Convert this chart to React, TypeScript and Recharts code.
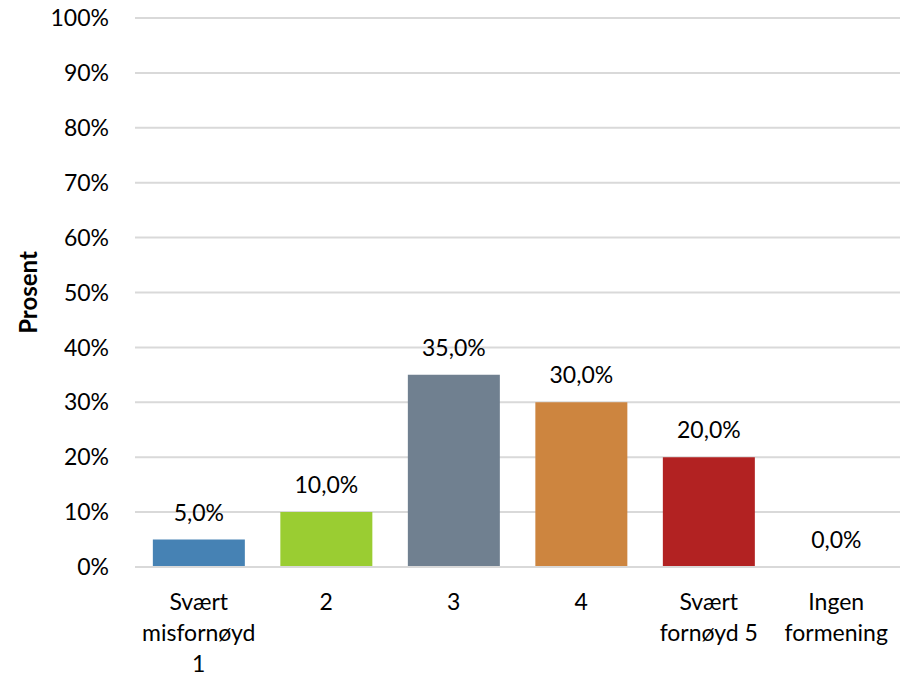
import React from "react";
import { BarChart, Bar, XAxis, YAxis, CartesianGrid, Cell, LabelList } from "recharts";

const categories = ["Svært misfornøyd 1", "2", "3", "4", "Svært fornøyd 5", "Ingen formening"];
const categoryLines: string[][] = [
  ["Svært", "misfornøyd", "1"],
  ["2"],
  ["3"],
  ["4"],
  ["Svært", "fornøyd 5"],
  ["Ingen", "formening"],
];
const values = [5.0, 10.0, 35.0, 30.0, 20.0, 0.0];
const colors = ["#4682B4", "#9ACD32", "#708090", "#CD853F", "#B22222", "transparent"];
const yTicks = [0, 10, 20, 30, 40, 50, 60, 70, 80, 90, 100];

const data = categories.map((c, i) => ({ name: c, idx: i, value: values[i] }));

const FONT = "Lato, 'Open Sans', sans-serif";
const FS = 23;

const XTick = (props: any) => {
  const { x, y, payload } = props;
  const lines = categoryLines[payload.index] || [String(payload.value)];
  return (
    <text x={x} y={y} textAnchor="middle" fill="#000" fontSize={FS} fontFamily={FONT}>
      {lines.map((l, i) => (
        <tspan key={i} x={x} dy={i === 0 ? 43 : 31}>
          {l}
        </tspan>
      ))}
    </text>
  );
};

const ValueLabel = (props: any) => {
  const { x, y, width, height, value } = props;
  const top = Math.min(y, y + height);
  const yy = Number(value) === 0 ? y + height : top;
  return (
    <text x={x + width / 2} y={yy - 19} textAnchor="middle" fill="#000" fontSize={FS} fontFamily={FONT}>
      {Number(value).toFixed(1).replace(".", ",") + "%"}
    </text>
  );
};

const YLabel = (props: any) => {
  const { viewBox } = props;
  const cx = 19;
  const cy = viewBox.y + viewBox.height / 2;
  return (
    <text
      x={cx}
      y={cy}
      transform={`rotate(-90, ${cx}, ${cy})`}
      textAnchor="middle"
      dominantBaseline="central"
      fontSize={24}
      fontWeight="bold"
      fontFamily={FONT}
      fill="#000"
    >
      Prosent
    </text>
  );
};

export default function App() {
  return (
    <BarChart
      width={895}
      height={667}
      data={data}
      margin={{ top: 10, right: 3, bottom: 0, left: 0 }}
      barCategoryGap="14%"
    >
      <CartesianGrid horizontal vertical={false} stroke="#d9d9d9" strokeWidth={2} />
      <XAxis
        dataKey="name"
        height={108}
        interval={0}
        axisLine={{ stroke: "#d9d9d9", strokeWidth: 2 }}
        tickLine={false}
        tickSize={0}
        tickMargin={0}
        tick={<XTick />}
      />
      <YAxis
        width={127}
        domain={[0, 100]}
        ticks={yTicks}
        interval={0}
        axisLine={false}
        tickLine={false}
        tickSize={0}
        tickMargin={26}
        tickFormatter={(v: number) => `${v}%`}
        tick={{ fill: "#000", fontSize: FS, fontFamily: FONT }}
        label={<YLabel />}
      />
      <Bar dataKey="value" isAnimationActive={false} minPointSize={0.01}>
        {data.map((d, i) => (
          <Cell key={i} fill={colors[i]} />
        ))}
        <LabelList dataKey="value" content={<ValueLabel />} />
      </Bar>
    </BarChart>
  );
}
